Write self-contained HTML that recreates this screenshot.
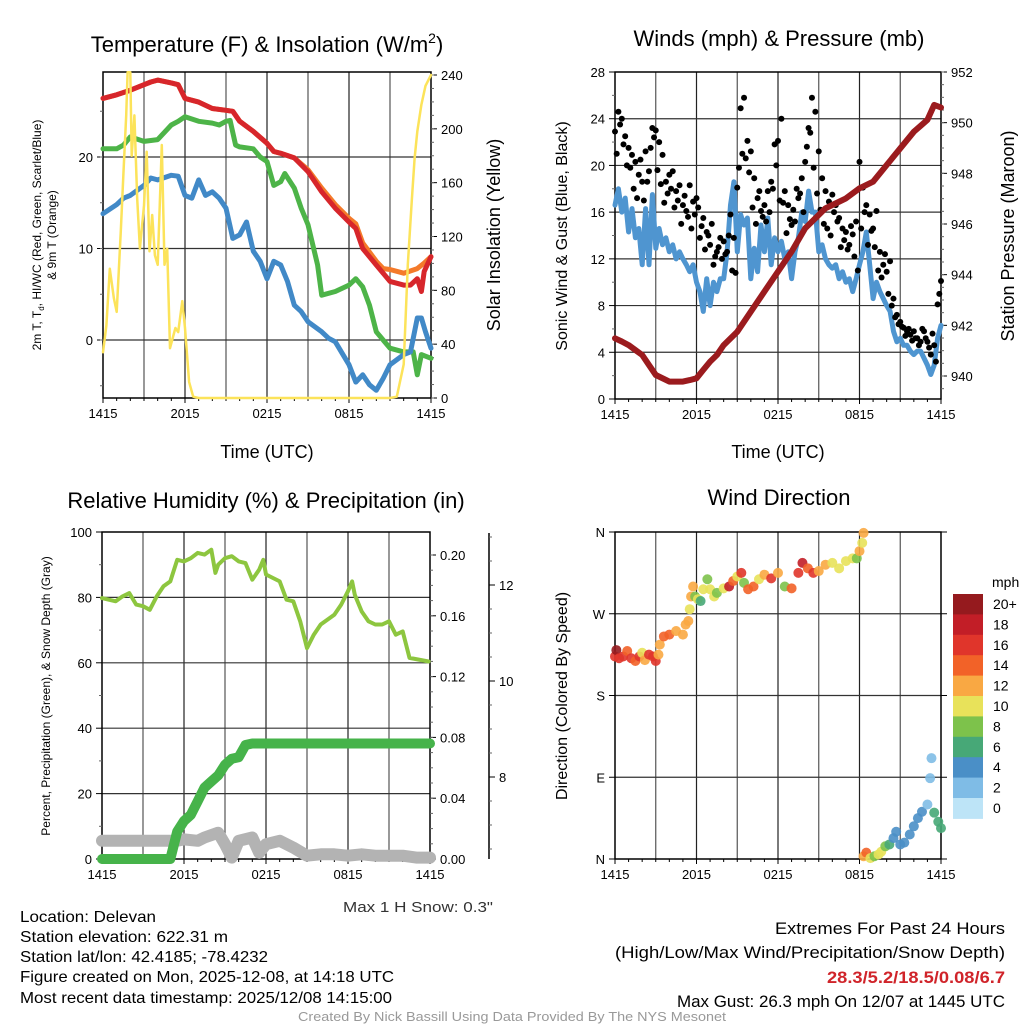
<!DOCTYPE html>
<html><head><meta charset="utf-8"><style>
html,body{margin:0;padding:0;background:#fff;}
svg{display:block;font-family:"Liberation Sans",sans-serif;}
</style></head><body>
<svg id="fig" width="1024" height="1024" viewBox="0 0 1024 1024" xmlns="http://www.w3.org/2000/svg">
<rect width="1024" height="1024" fill="#fff"/>
<g id="g1"></g>
<g id="g2"></g>
<g id="g3"></g>
<g id="g4"></g>
<g id="txt">
<text x="267" y="52" font-size="22" text-anchor="middle">Temperature (F) &amp; Insolation (W/m<tspan font-size="14" dy="-9">2</tspan><tspan dy="9">)</tspan></text>
<text x="779" y="46" font-size="22" text-anchor="middle">Winds (mph) &amp; Pressure (mb)</text>
<text x="266" y="508" font-size="22" text-anchor="middle">Relative Humidity (%) &amp; Precipitation (in)</text>
<text x="779" y="505" font-size="22" text-anchor="middle">Wind Direction</text>
<text x="267" y="458" font-size="18" text-anchor="middle">Time (UTC)</text>
<text x="778" y="458" font-size="18" text-anchor="middle">Time (UTC)</text>
<text transform="translate(41,235) rotate(-90)" font-size="12" text-anchor="middle">2m T, T<tspan font-size="8" dy="3">d</tspan><tspan dy="-3">, HI/WC (Red, Green, Scarlet/Blue)</tspan></text>
<text transform="translate(56,235) rotate(-90)" font-size="12" text-anchor="middle">&amp; 9m T (Orange)</text>
<text transform="translate(500,235) rotate(-90)" font-size="18" text-anchor="middle">Solar Insolation (Yellow)</text>
<text transform="translate(567,236) rotate(-90)" font-size="16" text-anchor="middle">Sonic Wind &amp; Gust (Blue, Black)</text>
<text transform="translate(1014,236) rotate(-90)" font-size="18" text-anchor="middle">Station Pressure (Maroon)</text>
<text transform="translate(50,696) rotate(-90)" font-size="12" text-anchor="middle">Percent, Precipitation (Green), &amp; Snow Depth (Gray)</text>
<text transform="translate(567,696) rotate(-90)" font-size="16" text-anchor="middle">Direction (Colored By Speed)</text>
<text x="992" y="587" font-size="14">mph</text>
<text x="493" y="912" font-size="15" text-anchor="end" fill="#333" textLength="150" lengthAdjust="spacingAndGlyphs">Max 1 H Snow: 0.3"</text>
<text x="20" y="922" font-size="16" textLength="136" lengthAdjust="spacingAndGlyphs">Location: Delevan</text>
<text x="20" y="942" font-size="16" textLength="208" lengthAdjust="spacingAndGlyphs">Station elevation: 622.31 m</text>
<text x="20" y="962" font-size="16" textLength="248" lengthAdjust="spacingAndGlyphs">Station lat/lon: 42.4185; -78.4232</text>
<text x="20" y="982" font-size="16" textLength="374" lengthAdjust="spacingAndGlyphs">Figure created on Mon, 2025-12-08, at 14:18 UTC</text>
<text x="20" y="1003" font-size="16" textLength="372" lengthAdjust="spacingAndGlyphs">Most recent data timestamp: 2025/12/08 14:15:00</text>
<text x="1005" y="934" font-size="17" text-anchor="end" textLength="230" lengthAdjust="spacingAndGlyphs">Extremes For Past 24 Hours</text>
<text x="1005" y="958" font-size="17" text-anchor="end" textLength="390" lengthAdjust="spacingAndGlyphs">(High/Low/Max Wind/Precipitation/Snow Depth)</text>
<text x="1005" y="983" font-size="17" text-anchor="end" font-weight="bold" fill="#d0242a" textLength="178" lengthAdjust="spacingAndGlyphs">28.3/5.2/18.5/0.08/6.7</text>
<text x="1005" y="1007" font-size="17" text-anchor="end" textLength="328" lengthAdjust="spacingAndGlyphs">Max Gust: 26.3 mph On 12/07 at 1445 UTC</text>
<text x="512" y="1021" font-size="13" text-anchor="middle" fill="#999" textLength="428" lengthAdjust="spacingAndGlyphs">Created By Nick Bassill Using Data Provided By The NYS Mesonet</text>
</g>
</svg>
<script>
// ---------- DATA ----------
const timeTicks = ["1415","2015","0215","0815","1415"];
// Panel 1 (hours since 1415 UTC)
const hiHours = [0,1,2,3,3.5,4,5,5.5,6,7,8,9,9.5,10,11,12,12.5,13,14,15,16,17,18,18.5,19,20,21,22,22.5,23,23.3,23.5,24];
const hiVals  = [26.4,26.8,27.3,27.9,28.2,28.4,28.1,27.9,26.4,26.0,25.3,25.1,25.0,23.9,22.8,21.5,20.6,20.4,19.9,18.4,16.2,14.4,12.9,12.2,10.0,8.2,6.4,6.0,6.0,6.7,5.3,7.5,9.1];
const t9Hours = [0,1,2,3,3.5,4,5,5.5,6,7,8,9,9.5,10,11,12,12.5,13,14,15,16,17,18,18.5,19,20,20.5,21,22,23,23.5,24];
const t9Vals  = [26.4,26.8,27.3,27.9,28.2,28.4,28.1,27.9,26.4,26.0,25.3,25.1,25.0,23.9,22.8,21.5,20.6,20.4,19.9,18.6,16.6,14.8,13.3,12.7,10.6,8.6,7.8,7.7,7.3,7.8,8.4,9.1];
const tHours = [0,1,1.5,2,3,4,5,5.5,6,7,8,8.5,9,9.3,9.7,10,11,11.5,12,12.5,13,13.3,14,14.5,15,15.7,16,17,18,18.5,19,19.5,20,21,22,22.7,23,23.3,24];
const tVals  = [20.9,20.9,21.3,22.2,21.7,21.9,23.5,23.9,24.4,23.9,23.7,23.5,23.9,24.0,21.3,21.1,20.9,20.0,19.5,16.9,17.3,18.2,16.6,14.4,12.6,8.2,4.9,5.3,6.0,6.7,5.8,3.8,0.9,-0.9,-1.3,-1.3,-3.8,-1.6,-2.0];
const tdHours = [0,1,1.5,2,3,3.5,4,5,5.5,6,6.5,7,7.5,8,8.5,9,9.5,10,10.5,11,11.5,12,12.5,13,13.5,14,14.5,15,16,16.5,17,18,18.5,19,19.5,20,20.5,21,22,22.5,23,23.3,23.6,24];
const tdVals  = [13.8,14.8,15.5,15.8,16.9,17.7,17.5,18.0,17.9,15.8,15.5,17.5,15.8,16.2,15.5,14.4,11.1,11.5,12.9,9.7,8.6,6.7,8.6,8.2,6.4,3.8,3.1,2.0,0.9,0.2,-0.2,-2.7,-4.6,-3.8,-4.9,-5.5,-4.2,-2.7,-1.6,-1.3,2.4,2.4,0.9,-0.9];
const solHours = [0,0.25,0.5,0.8,1,1.3,1.5,1.7,1.8,2,2.1,2.3,2.5,2.7,3,3.2,3.4,3.6,3.8,4,4.3,4.5,4.7,4.9,5.3,5.5,5.8,6,6.3,6.6,7,21,21.5,22,22.3,22.6,22.8,23,23.3,23.6,24];
const solVals  = [34,54,96,74,64,124,168,210,242,242,180,210,148,111,143,183,109,136,106,99,188,99,111,37,52,49,72,52,12,1,0,0,1,25,99,148,178,198,218,232,240];
const tempTicks = [0,10,20];
const solarTicks = [0,40,80,120,160,200,240];
// Panel 2
const windHours = [];
for (let i=0;i<=96;i++) windHours.push(i/4);
const windVals = [16.6,18.0,16.0,17.2,14.3,16.3,13.8,14.6,11.5,16.3,11.5,17.5,12.9,14.6,13.2,13.8,12.6,13.2,12.0,12.6,12.0,11.5,10.9,11.5,10.0,9.2,7.5,10.3,8.0,10.0,9.2,10.3,10.3,12.6,16.6,18.6,12.6,15.8,14.9,15.5,10.3,12.9,10.9,14.9,12.6,15.5,11.5,13.8,12.6,13.5,12.0,12.6,10.3,12.6,13.8,16.0,15.2,17.8,16.0,16.0,12.6,13.2,12.0,11.5,11.2,11.5,10.3,10.9,10.0,10.3,9.2,10.3,11.5,12.6,14.3,11.5,8.6,10.0,9.2,8.6,8.0,7.5,5.8,4.9,5.2,4.6,4.6,4.1,3.8,4.1,4.1,3.5,2.9,2.1,2.9,5.2,6.3];
const gustVals = [22.9,24.6,24.0,22.5,21.5,20.9,20.3,19.2,18.6,21.2,19.5,23.2,23.0,22.0,20.9,18.6,19.2,19.5,17.8,18.3,16.6,16.1,18.3,16.9,17.2,13.8,15.5,14.3,13.2,11.5,12.6,13.8,13.5,12.6,15.8,13.8,18.1,24.9,25.8,22.1,21.2,18.9,17.2,16.1,16.6,17.8,18.6,21.8,22.1,24.0,17.8,16.6,14.9,15.2,17.2,18.9,20.3,23.2,25.8,24.6,21.2,18.9,17.8,16.9,17.5,16.6,15.5,14.6,14.3,13.2,14.1,15.2,20.3,18.1,16.6,15.8,14.6,16.1,12.6,11.5,10.9,11.8,8.6,7.2,6.6,6.1,5.8,5.5,5.8,5.2,4.9,5.8,4.9,3.8,4.6,8.1,10.1];
const gust2Hours = [];
for (let i=0;i<96;i++) gust2Hours.push(i/4+0.125);
const gust2Vals = [21.0,23.5,21.8,20.0,19.8,18.0,17.2,20.5,17.0,18.6,21.5,22.4,19.6,18.4,16.8,17.6,18.0,16.4,17.0,15.0,17.4,15.6,14.6,15.8,16.4,14.8,12.8,14.0,15.0,12.2,13.0,12.0,12.4,14.0,11.0,10.8,19.8,21.0,20.6,19.4,16.4,15.0,17.8,15.6,15.2,16.0,18.0,20.0,17.0,16.8,14.2,15.4,16.2,18.0,17.6,16.0,21.6,22.8,19.8,17.6,16.2,15.0,14.6,14.0,16.0,15.2,13.0,13.6,12.8,14.8,12.2,11.0,14.6,16.0,13.2,14.4,13.0,11.0,10.4,12.4,9.0,8.0,7.0,6.4,6.2,5.4,6.0,5.0,5.2,4.6,6.0,5.2,4.4,5.6,3.2,9.0];
const presHours = [0,0.5,1,2,2.5,3,4,5,5.5,6,6.5,7,7.5,8,9,10,11,12,13,14,15,15.5,16,17,18,19,20,21,22,23,23.5,24];
const presVals  = [941.49,941.36,941.22,940.83,940.43,940.04,939.78,939.78,939.84,939.91,940.24,940.57,940.83,941.22,941.75,942.54,943.33,944.12,944.91,945.83,946.36,946.62,946.75,947.01,947.41,947.67,948.33,948.99,949.64,950.11,950.70,950.60];
const windTicks = [0,4,8,12,16,20,24,28];
const presTicks = [940,942,944,946,948,950,952];
// Panel 3
const rhHours = [0,0.5,1,1.5,2,2.5,3,3.5,4,4.5,5,5.5,6,6.5,7,7.5,8,8.3,8.5,9,9.5,10,10.5,11,11.5,11.8,12,13,13.5,14,14.5,15,15.5,16,17,17.5,18,18.3,18.5,19,19.5,20,20.5,21,21.5,22,22.5,23.9];
const rhVals  = [79.8,79.3,78.8,80.3,81.3,77.8,77.3,76.2,80.3,83.4,84.9,91.5,91.0,92.0,93.6,93.1,94.6,87.5,90.0,92.0,92.6,91.0,90.5,85.4,88.5,91.5,87.0,84.9,79.3,78.8,72.7,64.5,68.6,71.7,74.7,77.8,81.9,84.9,80.8,75.7,72.7,71.7,71.7,72.7,68.6,69.6,61.5,60.4];
const prHours = [0,5,5.5,6,6.5,7,7.5,8,8.5,9,9.5,10,10.5,11,24];
const prVals  = [0,0,0.018,0.025,0.029,0.038,0.047,0.051,0.055,0.062,0.066,0.067,0.075,0.076,0.076];
const snHours = [0,5.5,6,7,7.5,8.5,9,9.5,10,11,11.5,12,13,14,15,16,17,18,19,20,21,22,23,24];
const snVals  = [6.67,6.67,6.70,6.67,6.74,6.84,6.60,6.32,6.67,6.74,6.42,6.60,6.67,6.53,6.36,6.39,6.39,6.36,6.39,6.36,6.36,6.36,6.32,6.32];
const rhTicks = [0,20,40,60,80,100];
const prTicks = [0.00,0.04,0.08,0.12,0.16,0.20];
const prTickLabels = ["0.00","0.04","0.08","0.12","0.16","0.20"];
const snTicks = [8,10,12];
// Panel 4
const dirHours = [0,0.1,0.3,0.6,0.9,1.2,1.5,1.8,2,2.2,2.5,2.8,3,3.2,3.3,3.6,4,4.5,5,5.2,5.4,5.5,5.6,5.75,5.9,6.1,6.3,6.5,6.8,7,7.3,7.5,8,8.4,8.7,9,9.3,9.5,9.8,10.2,10.6,11,11.5,12,12.5,13,13.5,13.8,14.2,14.6,15,15.5,16,16.5,17,17.5,17.8,18,18.2,18.3,18.3,18.5,18.8,19.1,19.4,19.6,19.9,20.2,20.5,20.7,21,21.3,21.7,22,22.3,22.6,23,23.2,23.3,23.5,23.8,24];
const dirVals  = [223,230,221,223,229,221,218,223,227,219,225,223,218,225,236,245,247,251,247,258,262,275,289,300,289,286,284,297,308,297,289,293,298,300,306,311,315,304,297,300,308,313,309,315,300,298,315,326,320,315,317,324,326,320,328,331,331,339,348,359,3,7,1,3,5,8,14,16,23,30,16,18,27,36,45,52,60,89,111,51,41,34];
const dirSpeed = [16,20,16,16,14,16,14,16,10,12,16,16,16,12,12,14,14,12,12,12,12,10,12,12,8,10,6,10,8,10,10,8,10,18,14,10,16,8,14,14,10,12,16,12,8,14,16,18,14,16,12,12,10,10,10,10,8,12,10,12,12,14,10,8,10,10,8,6,4,4,4,4,4,4,4,4,2,2,2,6,6,6];
const dirTicks = [0,90,180,270,360];
const dirTickLabels = ["N","E","S","W","N"];
const cbLabels = ["20+","18","16","14","12","10","8","6","4","2","0"];
const cbColors = ["#951a1e","#c21e27","#e0352b","#f26228","#f9a843","#e8e25a","#7dc24b","#47a877","#4a8fc7","#7fbce6","#bde4f7"];

// ---------- HELPERS ----------
const NS="http://www.w3.org/2000/svg";
function mk(parent, tag, attrs){const e=document.createElementNS(NS,tag);for(const k in attrs)e.setAttribute(k,attrs[k]);parent.appendChild(e);return e;}
function lin(d0,d1,r0,r1){return v=>r0+(v-d0)/(d1-d0)*(r1-r0);}
function pathD(xs,ys,fx,fy){return xs.map((x,i)=>(i?"L":"M")+fx(x).toFixed(1)+","+fy(ys[i]).toFixed(1)).join("");}

function frame(g,x0,x1,y0,y1,fx,yGrid){
  for(let h=3;h<24;h+=3){const l=mk(g,"line",{x1:fx(h),x2:fx(h),y1:y0,y2:y1,stroke:(h%6===0?"#222":"#555"),"stroke-width":1.2});
    
    }
  yGrid.forEach(y=>{const l=mk(g,"line",{x1:x0,x2:x1,y1:y,y2:y,stroke:"#333","stroke-width":1.2});
    
    });
  const r=mk(g,"rect",{x:x0,y:y0,width:x1-x0,height:y1-y0,fill:"none",stroke:"#000","stroke-width":1.5});
  
  
  timeTicks.forEach((t,i)=>{const x=fx(i*6);
    mk(g,"line",{x1:x,x2:x,y1:y1,y2:y1+5,stroke:"#000"});
    const tx=mk(g,"text",{x:x,y:y1+20,"font-size":13,"text-anchor":"middle"});tx.textContent=t;
    
    });
  for(let h=1;h<24;h++){mk(g,"line",{x1:fx(h),x2:fx(h),y1:y1,y2:y1+3,stroke:"#000"});}
}
function yAxis(g,x,ticks,labels,fy,side,minor){
  const dir=side==="left"?-1:1;
  ticks.forEach((v,i)=>{const y=fy(v);mk(g,"line",{x1:x,x2:x+dir*6,y1:y,y2:y,stroke:"#000"});
    const t=mk(g,"text",{x:x+dir*10,y:y+5,"font-size":13,"text-anchor":side==="left"?"end":"start"});t.textContent=labels[i];
    
    });
  if(minor){minor.forEach(v=>mk(g,"line",{x1:x,x2:x+dir*3,y1:fy(v),y2:fy(v),stroke:"#666"}));}
}
function line(g,xs,ys,fx,fy,color,w,name){const p=mk(g,"path",{d:pathD(xs,ys,fx,fy),fill:"none",stroke:color,"stroke-width":w,"stroke-linejoin":"round","stroke-linecap":"round"});
  
  return p;}

// ---------- PANEL 1 ----------
{const g=document.getElementById("g1");
 const x0=103,x1=431,y0=72,y1=398;
 const fx=lin(0,24,x0,x1), fy=lin(0,10,340,248.5), fs=lin(0,240,398,75);
 frame(g,x0,x1,y0,y1,fx,tempTicks.map(fy));
 const mn=[];for(let v=-5;v<=25;v+=5)mn.push(v);
 yAxis(g,x0,tempTicks,tempTicks.map(String),fy,"left",mn);
 const mn2=[];for(let v=0;v<=240;v+=10)mn2.push(v);
 yAxis(g,x1,solarTicks,solarTicks.map(String),fs,"right",mn2);
 line(g,t9Hours,t9Vals,fx,fy,"#f47a2a",5,"9m-temp-line");
 line(g,hiHours,hiVals,fx,fy,"#d7262b",5,"heat-index-line");
 line(g,tHours,tVals,fx,fy,"#4db448",5,"temperature-line");
 line(g,tdHours,tdVals,fx,fy,"#4189c7",5,"dewpoint-line");
 line(g,solHours,solVals,fx,fs,"#fce35a",2.5,"solar-line");
}
// ---------- PANEL 2 ----------
{const g=document.getElementById("g2");
 const x0=615,x1=941,y0=72,y1=399;
 const fx=lin(0,24,x0,x1), fy=lin(0,28,399,72), fp=lin(940,952,376,72);
 frame(g,x0,x1,y0,y1,fx,windTicks.slice(1,-1).map(fy));
 const mn=[];for(let v=2;v<28;v+=4)mn.push(v);
 yAxis(g,x0,windTicks,windTicks.map(String),fy,"left",mn);
 const mn2=[];for(let v=939.5;v<=952;v+=0.5)mn2.push(v);
 yAxis(g,x1,presTicks,presTicks.map(String),fp,"right",mn2);
 line(g,windHours,windVals,fx,fy,"#4f95d0",5,"sonic-wind-line");
 gustVals.forEach((v,i)=>{const c=mk(g,"circle",{cx:fx(windHours[i]),cy:fy(v),r:3,fill:"#000"});
   
   });
 gust2Vals.forEach((v,i)=>{const c=mk(g,"circle",{cx:fx(gust2Hours[i]),cy:fy(v),r:3,fill:"#000"});
   
   });
 line(g,presHours,presVals,fx,fp,"#9b1b1e",6,"pressure-line");
}
// ---------- PANEL 3 ----------
{const g=document.getElementById("g3");
 const x0=102,x1=430,y0=532,y1=859;
 const fx=lin(0,24,x0,x1), fy=lin(0,100,859,532), fpr=lin(0,0.2,859,555), fsn=lin(8,10,777,681);
 frame(g,x0,x1,y0,y1,fx,[20,40,60,80].map(fy));
 const mn=[];for(let v=10;v<100;v+=20)mn.push(v);
 yAxis(g,x0,rhTicks,rhTicks.map(String),fy,"left",mn);
 const mn2=[];for(let v=0;v<=0.21;v+=0.01)mn2.push(v);
 yAxis(g,x1,prTicks,prTickLabels,fpr,"right",mn2);
 const ax=mk(g,"line",{x1:489,x2:489,y1:533,y2:859,stroke:"#000","stroke-width":1.5});
 
 
 const mn3=[6.5,7,7.5,8.5,9,9.5,10.5,11,11.5,12.5,13];
 yAxis(g,489,snTicks,snTicks.map(String),fsn,"right",mn3);
 line(g,snHours,snVals,fx,fsn,"#b3b3b3",12,"snow-depth-line");
 line(g,prHours,prVals,fx,fpr,"#46b34a",10,"precip-line");
 line(g,rhHours,rhVals,fx,fy,"#8dc63f",4,"rh-line");
}
// ---------- PANEL 4 ----------
{const g=document.getElementById("g4");
 const x0=615,x1=941,y0=532,y1=859;
 const fx=lin(0,24,x0,x1), fy=lin(0,360,859,532);
 frame(g,x0,x1,y0,y1,fx,[90,180,270].map(fy));
 yAxis(g,x0,dirTicks,dirTickLabels,fy,"left",null);
 dirTicks.forEach(v=>mk(g,"line",{x1:x1,x2:x1+6,y1:fy(v),y2:fy(v),stroke:"#000"}));
 function col(s){let idx=Math.round(s/2);if(idx>10)idx=10;return cbColors[10-idx];}
 dirVals.forEach((v,i)=>{const c=mk(g,"circle",{cx:fx(dirHours[i]),cy:fy(v),r:5,fill:col(dirSpeed[i]),"fill-opacity":0.9});
   
   });
 const cb=mk(g,"g",{});
 
 
 const top=594,bh=20.4;
 cbColors.forEach((c,i)=>{mk(cb,"rect",{x:953,y:top+i*bh,width:30,height:bh+0.5,fill:c});
   const t=mk(cb,"text",{x:993,y:top+i*bh+15,"font-size":14});t.textContent=cbLabels[i];
   
   });
}
</script>
</body></html>
